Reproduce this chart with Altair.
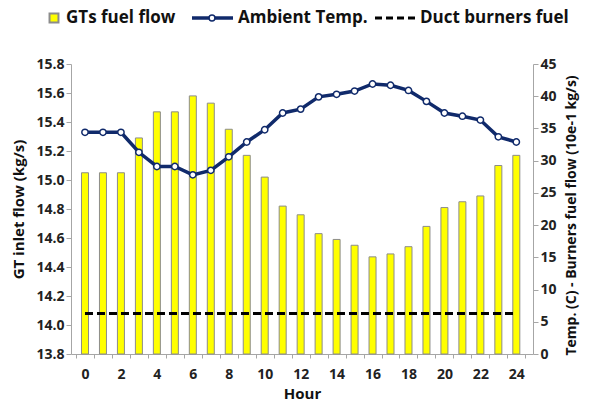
import altair as alt
import pandas as pd

hours = list(range(25))
gt_fuel = [15.05, 15.05, 15.05, 15.29, 15.47, 15.47, 15.58, 15.53, 15.35, 15.17,
           15.02, 14.82, 14.76, 14.63, 14.59, 14.55, 14.47, 14.49, 14.54, 14.68,
           14.81, 14.85, 14.89, 15.10, 15.17]
ambient = [34.4, 34.4, 34.4, 31.3, 29.1, 29.1, 27.8, 28.5, 30.6, 32.9,
           34.8, 37.4, 38.0, 39.9, 40.3, 40.8, 41.9, 41.7, 40.9, 39.2,
           37.4, 36.9, 36.3, 33.7, 32.9]
duct = [6.3] * 25

left_ticks = [13.8, 14.0, 14.2, 14.4, 14.6, 14.8, 15.0, 15.2, 15.4, 15.6, 15.8]
right_ticks = [0, 5, 10, 15, 20, 25, 30, 35, 40, 45]
x_vals = [v / 2 for v in range(-1, 50)]

legend_labels = ["GTs fuel flow", "Ambient Temp.", "Duct burners fuel"]

df = pd.DataFrame({"hour": hours, "gt": gt_fuel, "temp": ambient, "duct": duct})

FONT = "Open Sans"
NAVY = "#102a6b"
AXC = "#a6a6a6"

x_enc = alt.X(
    "hour:Q",
    scale=alt.Scale(domain=[-0.5, 24.65], nice=False, zero=False),
    axis=alt.Axis(
        values=x_vals,
        labelExpr="datum.value % 2 == 0 ? datum.value : ''",
        tickOpacity={"condition": {"test": "datum.value % 1 != 0", "value": 1}, "value": 0},
        title="Hour", grid=False, domainColor=AXC, tickColor=AXC, tickSize=4,
        labelFont=FONT, labelFontSize=14, labelFontWeight="bold", labelColor="#222",
        labelPadding=9, titleFont=FONT, titleFontSize=15, titleFontWeight="bold",
        titleColor="#111", titlePadding=5,
    ),
)

left_axis = alt.Axis(
    values=left_ticks, format=".1f", orient="left", grid=False,
    domainColor=AXC, tickColor=AXC, tickSize=5,
    labelFont=FONT, labelFontSize=14, labelFontWeight="bold", labelColor="#222",
    title="GT inlet flow (kg/s)", titleFont=FONT, titleFontSize=15,
    titleFontWeight="bold", titleColor="#111", titlePadding=9,
)
right_axis = alt.Axis(
    values=right_ticks, orient="right", grid=False,
    domainColor=AXC, tickColor=AXC, tickSize=5,
    labelFont=FONT, labelFontSize=14, labelFontWeight="bold", labelColor="#222",
    title="Temp. (C) - Burners fuel flow (10e-1 kg/s)", titleFont=FONT,
    titleFontSize=14, titleFontWeight="bold", titleColor="#111",
    titleAngle=270, titlePadding=22, titleAlign="center", titleY=151,
)

base = alt.Chart(df)

bars = base.mark_bar(color="#ffff00", stroke="#8c8c8c", strokeWidth=1, size=7).encode(
    x=x_enc,
    y=alt.Y("gt:Q", scale=alt.Scale(domain=[13.8, 15.8], zero=False, nice=False), axis=left_axis),
    y2=alt.datum(13.8),
)

rscale = alt.Scale(domain=[0, 45], nice=False)
temp_line = base.mark_line(color=NAVY, strokeWidth=3.5).encode(
    x=x_enc, y=alt.Y("temp:Q", scale=rscale, axis=right_axis)
)
temp_pts = base.mark_point(filled=True, fill="white", stroke=NAVY, strokeWidth=1.5, size=40, opacity=1).encode(
    x=x_enc, y=alt.Y("temp:Q", scale=rscale, axis=right_axis)
)
duct_line = base.mark_line(color="black", strokeWidth=3, strokeDash=[8, 4]).encode(
    x=x_enc, y=alt.Y("duct:Q", scale=rscale, axis=right_axis)
)
right = alt.layer(duct_line, temp_line, temp_pts)

# legend (positions relative to the plot area)
ldf = pd.DataFrame({"a": [0]})
lb = alt.Chart(ldf)
leg_y = -46
txt = dict(align="left", baseline="middle", font=FONT, fontSize=17, fontWeight="bold", color="#111")
leg_sq = lb.mark_square(color="#ffff00", stroke="#8c8c8c", size=80, opacity=1).encode(
    x=alt.value(-17), y=alt.value(leg_y))
leg_t1 = lb.mark_text(**txt).encode(
    x=alt.value(-5), y=alt.value(leg_y), text=alt.value(legend_labels[0]))
leg_l2 = lb.mark_rule(color=NAVY, strokeWidth=3.5).encode(
    x=alt.value(121), x2=alt.value(162), y=alt.value(leg_y))
leg_p2 = lb.mark_point(filled=True, fill="white", stroke=NAVY, strokeWidth=1.5, size=35, opacity=1).encode(
    x=alt.value(141), y=alt.value(leg_y))
leg_t2 = lb.mark_text(**txt).encode(
    x=alt.value(167), y=alt.value(leg_y), text=alt.value(legend_labels[1]))
leg_l3 = lb.mark_rule(color="black", strokeWidth=3, strokeDash=[7, 4]).encode(
    x=alt.value(304), x2=alt.value(344), y=alt.value(leg_y))
leg_t3 = lb.mark_text(**txt).encode(
    x=alt.value(349), y=alt.value(leg_y), text=alt.value(legend_labels[2]))

chart = alt.layer(
    bars, right, leg_sq, leg_t1, leg_l2, leg_p2, leg_t2, leg_l3, leg_t3
).resolve_scale(y="independent").properties(
    width=462, height=290,
    autosize=alt.AutoSizeParams(type="none"),
    padding={"left": 63, "top": 56, "right": 49, "bottom": 48},
    background="white",
).configure_view(stroke=None)

chart.save("out.html", embed_options={"renderer": "svg", "actions": False})
